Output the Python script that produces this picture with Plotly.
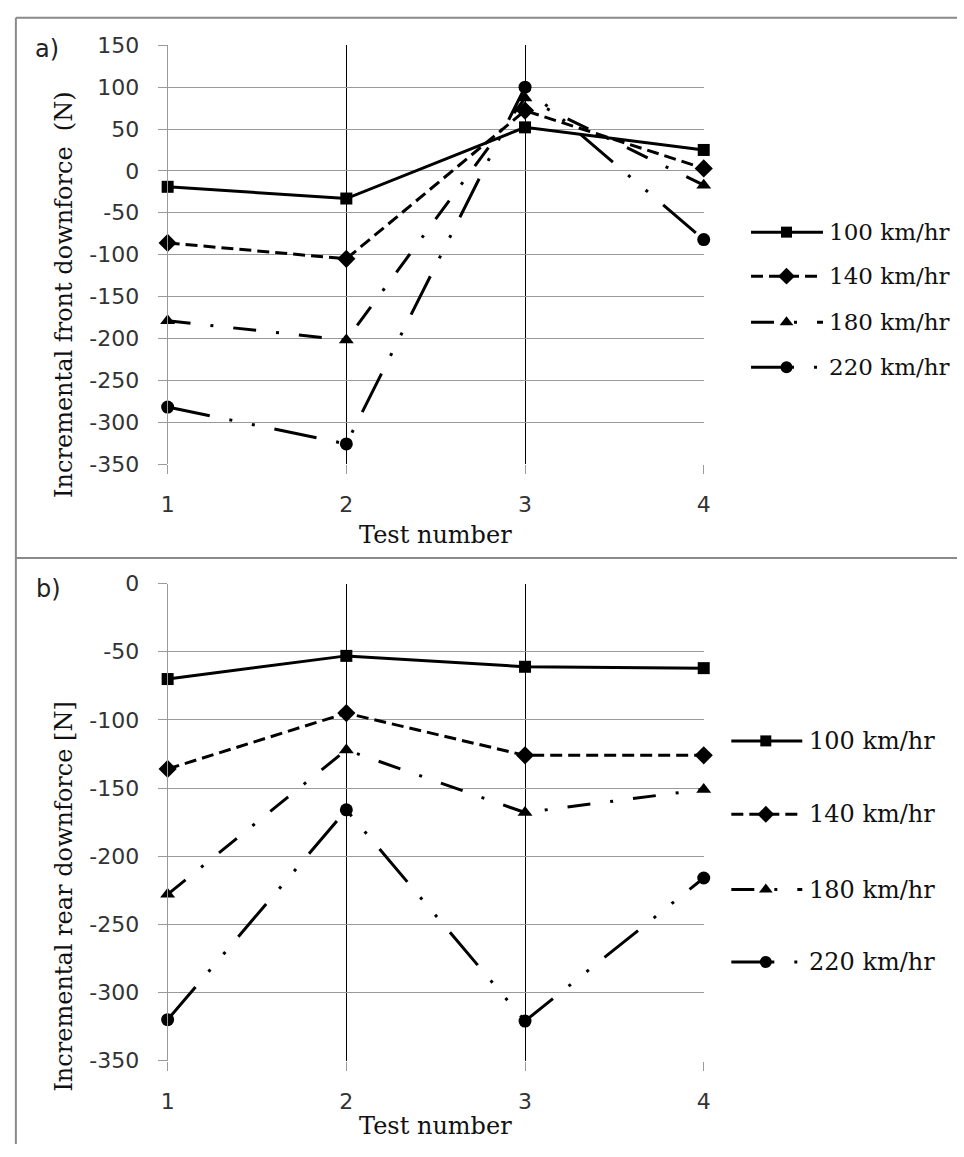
import plotly.graph_objects as go

# ---- data -------------------------------------------------------------
tests = [1, 2, 3, 4]
speeds = ["100 km/hr", "140 km/hr", "180 km/hr", "220 km/hr"]

front_100 = [-19, -33, 52, 25]
front_140 = [-86, -105, 72, 3]
front_180 = [-179, -202, 87, -17]
front_220 = [-282, -326, 100, -82]

rear_100 = [-70, -53, -61, -62]
rear_140 = [-136, -95, -126, -126]
rear_180 = [-228, -122, -168, -151]
rear_220 = [-320, -166, -321, -216]

front_ticks = list(range(-350, 151, 50))
rear_ticks = list(range(-350, 1, 50))

# ---- styling ----------------------------------------------------------
W, H = 964, 1157
SERIF = "DejaVu Serif"
SANS = "DejaVu Sans"
GRID = "#9a9a9a"
BORDER = "#8a8a8a"

styles = [
    dict(dash="solid", symbol="square", size=12),
    dict(dash="12px,6px", symbol="diamond", size=14),
    dict(dash="23px,20px,3px,20px", symbol="triangle-up", size=13),
    dict(dash="43px,20px,3px,20px,3px,20px", symbol="circle", size=13),
]

fig = go.Figure()

panels = [
    ("x", "y", [front_100, front_140, front_180, front_220]),
    ("x2", "y2", [rear_100, rear_140, rear_180, rear_220]),
]
for xa, ya, series in panels:
    for name, vals, st in zip(speeds, series, styles):
        fig.add_trace(go.Scatter(
            x=tests, y=vals, name=name, xaxis=xa, yaxis=ya,
            mode="lines+markers", cliponaxis=False, showlegend=False,
            line=dict(color="black", width=3, dash=st["dash"]),
            marker=dict(symbol=st["symbol"], size=st["size"], color="black",
                        line=dict(width=0)),
        ))


def px_x(p):
    return p / W


def px_y(p):
    return 1 - p / H


# ---- legends: line samples on a small pixel-space axis ----------------
LX0, LX1, LY0, LY1 = 720, 840, 200, 1000
legend_rows = [
    dict(ys=[225, 270, 317, 363], x0=755, x1=828, xm=791, xt=833, fs=23),
    dict(ys=[745, 820, 897, 971], x0=735, x1=807, xm=770, xt=813, fs=24),
]
annotations = []
for row in legend_rows:
    for name, st, yy in zip(speeds, styles, row["ys"]):
        fig.add_trace(go.Scatter(
            x=[row["x0"], row["x1"]], y=[yy, yy],
            xaxis="x3", yaxis="y3", mode="lines",
            cliponaxis=False, showlegend=False, hoverinfo="skip",
            line=dict(color="black", width=3, dash=st["dash"]),
        ))
        fig.add_trace(go.Scatter(
            x=[row["xm"]], y=[yy],
            xaxis="x3", yaxis="y3", mode="markers",
            cliponaxis=False, showlegend=False, hoverinfo="skip",
            marker=dict(symbol=st["symbol"], size=st["size"] - 1,
                        color="black", line=dict(width=0)),
        ))
        annotations.append(dict(
            x=px_x(row["xt"]), y=px_y(yy), text=name,
            xanchor="left", yanchor="middle", borderpad=0,
            font=dict(family=SERIF, size=row["fs"], color="#111"),
        ))

# axis titles and panel labels
annotations += [
    dict(x=px_x(435), y=px_y(535), text="Test number",
         font=dict(family=SERIF, size=24, color="#111")),
    dict(x=px_x(435), y=px_y(1139), text="Test number",
         font=dict(family=SERIF, size=24, color="#111")),
    dict(x=px_x(58), y=px_y(289), text="Incremental front downforce  (N)",
         textangle=-90, font=dict(family=SERIF, size=24, color="#111")),
    dict(x=px_x(58), y=px_y(904), text="Incremental rear downforce [N]",
         textangle=-90, font=dict(family=SERIF, size=24, color="#111")),
    dict(x=px_x(41), y=px_y(38), text="a)",
         font=dict(family=SANS, size=24, color="#222")),
    dict(x=px_x(42), y=px_y(590), text="b)",
         font=dict(family=SANS, size=24, color="#222")),
]
for a in annotations:
    a.setdefault("xanchor", "center")
    a.setdefault("yanchor", "middle")
    a.setdefault("borderpad", 0)
    a.update(xref="paper", yref="paper", showarrow=False)

# panel frame lines
shapes = [
    dict(type="line", x0=px_x(9), x1=1, y0=px_y(6), y1=px_y(6)),
    dict(type="line", x0=px_x(9), x1=1, y0=px_y(558), y1=px_y(558)),
    dict(type="line", x0=px_x(9), x1=px_x(9), y0=px_y(6), y1=0),
]
for s in shapes:
    s.update(xref="paper", yref="paper", line=dict(color=BORDER, width=2))

xdom = [px_x(163), px_x(707)]
tick_font = dict(family=SANS, size=22, color="#333")
common_x = dict(
    range=[1, 4], tickvals=tests, ticktext=[str(t) for t in tests],
    showgrid=True, gridcolor="black", gridwidth=1,
    showline=False, zeroline=False,
    ticks="outside", ticklen=9, tickcolor=GRID, tickwidth=1,
    tickfont=tick_font, ticklabelstandoff=12,
)
common_y = dict(
    showgrid=True, gridcolor=GRID, gridwidth=1,
    showline=True, linecolor=GRID, linewidth=1, zeroline=False,
    ticks="outside", ticklen=9, tickcolor=GRID, tickwidth=1,
    tickfont=tick_font, ticklabelstandoff=14,
)

fig.update_layout(
    width=W, height=H, margin=dict(l=0, r=0, t=0, b=0),
    paper_bgcolor="white", plot_bgcolor="rgba(0,0,0,0)",
    xaxis=dict(domain=xdom, anchor="y", **common_x),
    yaxis=dict(domain=[px_y(462), px_y(34)], anchor="x",
               range=[-350, 150], tickvals=front_ticks,
               ticktext=[str(v) for v in front_ticks], **common_y),
    xaxis2=dict(domain=xdom, anchor="y2", **common_x),
    yaxis2=dict(domain=[px_y(1071.7), px_y(584.3)], anchor="x2",
                range=[-350, 0], tickvals=rear_ticks,
                ticktext=[str(v) for v in rear_ticks], **common_y),
    xaxis3=dict(domain=[px_x(LX0), px_x(LX1)], range=[LX0, LX1],
                anchor="y3", visible=False, fixedrange=True),
    yaxis3=dict(domain=[px_y(LY1), px_y(LY0)], range=[LY1, LY0],
                anchor="x3", visible=False, fixedrange=True),
    annotations=annotations,
    shapes=shapes,
)

fig.write_html("out.html")
